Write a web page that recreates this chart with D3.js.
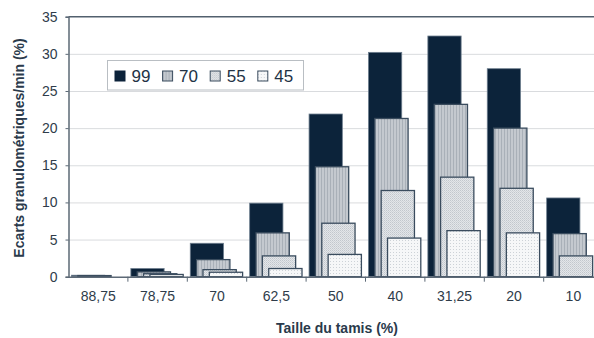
<!DOCTYPE html>
<html>
<head>
<meta charset="utf-8">
<script src="https://cdn.jsdelivr.net/npm/d3@7"></script>
<style>
  html, body { margin: 0; padding: 0; background: #fff; }
  svg { display: block; font-family: "Liberation Sans", Arial, sans-serif; }
</style>
</head>
<body>
<svg id="chart" width="594" height="338"></svg>
<script>
// Sieve sizes (category axis)
const categories = ["88,75", "78,75", "70", "62,5", "50", "40", "31,25", "20", "10"];
// Series names (legend)
const seriesNames = ["99", "70", "55", "45"];
// Values per series, one entry per sieve size
const s99 = [0.2, 1.1, 4.5, 9.9, 21.9, 30.2, 32.4, 28.0, 10.6];
const s70 = [0.15, 0.65, 2.3, 5.9, 14.8, 21.3, 23.2, 20.0, 5.8];
const s55 = [0, 0.4, 0.95, 2.8, 7.2, 11.6, 13.4, 11.9, 2.8];
const s45 = [0, 0.3, 0.6, 1.1, 3.0, 5.2, 6.2, 5.9, 0];
const yTicks = [0, 5, 10, 15, 20, 25, 30, 35];

const seriesValues = [s99, s70, s55, s45];

const svg = d3.select("#chart");
const plotLeft = 68.5, plotTop = 16.7, plotBottom = 276.7;
const bandW = 59.4;
const plotRight = plotLeft + bandW * categories.length;

const x = d3.scaleBand().domain(categories).range([plotLeft, plotRight]).padding(0);
const y = d3.scaleLinear().domain([0, 35]).range([plotBottom, plotTop]);

// Bar layout inside each band: overlapping bars shifted step by step
const barW = x.bandwidth() * 0.56;
const step = x.bandwidth() * 0.107;
const pad = x.bandwidth() * 0.05;
const offset = d3.scalePoint().domain(seriesNames).range([pad, pad + step * 3]);

// Fill patterns
const defs = svg.append("defs");
const p70 = defs.append("pattern").attr("id", "pat70").attr("patternUnits", "userSpaceOnUse")
  .attr("width", 3).attr("height", 3);
p70.append("rect").attr("width", 3).attr("height", 3).attr("fill", "#c4c9cf");
p70.append("rect").attr("width", 1).attr("height", 3).attr("fill", "#a9b0b8");

const p55 = defs.append("pattern").attr("id", "pat55").attr("patternUnits", "userSpaceOnUse")
  .attr("width", 2).attr("height", 2);
p55.append("rect").attr("width", 2).attr("height", 2).attr("fill", "#e3e6e9");
p55.append("rect").attr("width", 1).attr("height", 1).attr("fill", "#c2c7cd");
p55.append("rect").attr("x", 1).attr("y", 1).attr("width", 1).attr("height", 1).attr("fill", "#cfd3d8");

const p45 = defs.append("pattern").attr("id", "pat45").attr("patternUnits", "userSpaceOnUse")
  .attr("width", 3).attr("height", 3);
p45.append("rect").attr("width", 3).attr("height", 3).attr("fill", "#f6f7f8");
p45.append("rect").attr("width", 1).attr("height", 1).attr("fill", "#cdd2d7");

const fills = { "99": "#0c233a", "70": "url(#pat70)", "55": "url(#pat55)", "45": "url(#pat45)" };
const strokes = { "99": "#6e7e8e", "70": "#3a4c5e", "55": "#3a4c5e", "45": "#3a4c5e" };

// Gridlines (dotted)
svg.append("g").selectAll("line")
  .data(yTicks.filter(t => t > 0 && t < 35))
  .join("line")
  .attr("x1", plotLeft).attr("x2", 594)
  .attr("y1", d => y(d) + 0.5).attr("y2", d => y(d) + 0.5)
  .attr("stroke", "#b3b7bc").attr("stroke-width", 1).attr("stroke-dasharray", "1,1");

// Top border of plot area
svg.append("line")
  .attr("x1", plotLeft).attr("x2", 594).attr("y1", y(35)).attr("y2", y(35))
  .attr("stroke", "#52606e").attr("stroke-width", 1.5);

// Bars: back to front
seriesNames.forEach((name, si) => {
  const data = categories.map((c, i) => ({ c, v: seriesValues[si][i] })).filter(d => d.v > 0);
  svg.append("g").selectAll("rect")
    .data(data)
    .join("rect")
    .attr("x", d => x(d.c) + offset(name))
    .attr("y", d => y(d.v))
    .attr("width", barW)
    .attr("height", d => y(0) - y(d.v))
    .attr("fill", fills[name])
    .attr("stroke", strokes[name])
    .attr("stroke-width", name === "99" ? 0.8 : 1.3);
});

// Y axis
const yAxis = svg.append("g")
  .attr("transform", `translate(${plotLeft},0)`)
  .call(d3.axisLeft(y).tickValues(yTicks).tickSize(3).tickPadding(8).tickFormat(d3.format("d")));
yAxis.select(".domain").attr("stroke", "#5c6976").attr("stroke-width", 1.5);
yAxis.selectAll(".tick line").attr("stroke", "#5c6976");
yAxis.selectAll(".tick text").attr("font-size", 14).attr("fill", "#2f3c4a")
  .attr("font-family", "Liberation Sans, Arial, sans-serif");

// X axis
const xAxis = svg.append("g")
  .attr("transform", `translate(0,${plotBottom})`)
  .call(d3.axisBottom(x).tickSize(0).tickPadding(14));
xAxis.select(".domain").attr("stroke", "#5c6976").attr("stroke-width", 1.5);
xAxis.selectAll(".tick text").attr("font-size", 14).attr("fill", "#2f3c4a")
  .attr("font-family", "Liberation Sans, Arial, sans-serif");
// Boundary ticks between categories
xAxis.append("g").selectAll("line")
  .data(categories)
  .join("line")
  .attr("x1", d => x(d) + x.bandwidth()).attr("x2", d => x(d) + x.bandwidth())
  .attr("y1", 0).attr("y2", 5)
  .attr("stroke", "#5c6976").attr("stroke-width", 1);

// Axis titles
svg.append("text")
  .attr("x", 337).attr("y", 333)
  .attr("text-anchor", "middle")
  .attr("font-size", 14).attr("font-weight", "bold").attr("fill", "#2a3a4b")
  .text("Taille du tamis (%)");

svg.append("text")
  .attr("transform", "translate(24,148) rotate(-90)")
  .attr("text-anchor", "middle")
  .attr("font-size", 14).attr("font-weight", "bold").attr("fill", "#2a3a4b")
  .text("Ecarts granulométriques/min (%)");

// Legend
const legend = svg.append("g");
legend.append("rect")
  .attr("x", 107.5).attr("y", 60.5).attr("width", 196).attr("height", 29.5)
  .attr("fill", "#fff").attr("stroke", "#b9bec3").attr("stroke-width", 1);
const items = legend.selectAll("g.item")
  .data(seriesNames)
  .join("g")
  .attr("class", "item")
  .attr("transform", (d, i) => `translate(${115 + i * 47.6},71)`);
items.append("rect")
  .attr("width", 10).attr("height", 10)
  .attr("fill", d => fills[d])
  .attr("stroke", d => d === "99" ? "#0c233a" : "#3a4c5e")
  .attr("stroke-width", 1);
items.append("text")
  .attr("x", 16.5).attr("y", 11)
  .attr("font-size", 17).attr("fill", "#223245")
  .text(d => d);
</script>
</body>
</html>
